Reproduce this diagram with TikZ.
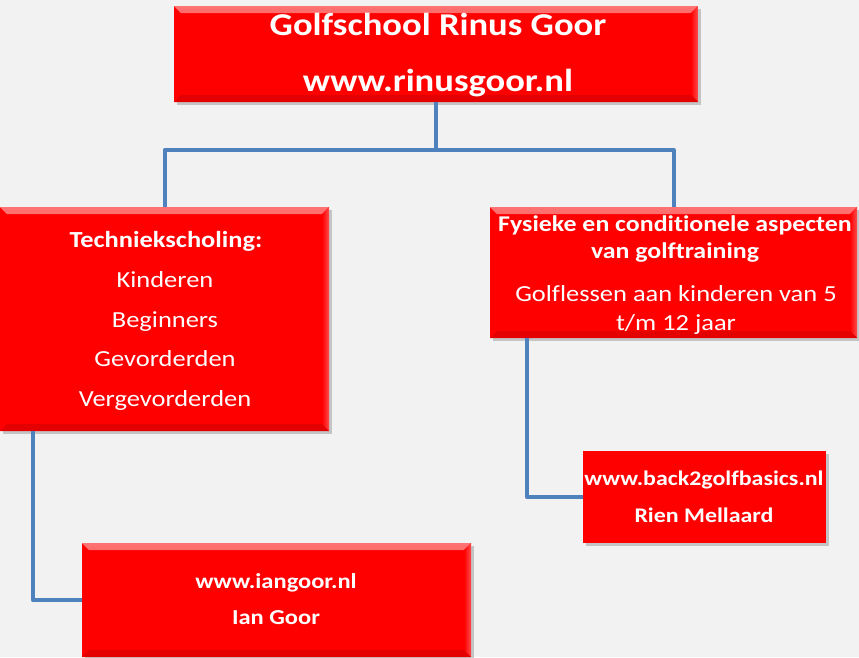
\documentclass[tikz,border=0pt]{standalone}
\usepackage{fontspec}
\setmainfont[FakeStretch=1.15,Ligatures=NoCommon]{Carlito}
\usetikzlibrary{shadows}
\definecolor{bg}{HTML}{F2F2F2}
\definecolor{conn}{HTML}{4F81BD}
\tikzset{
  box/.style={fill=red, draw=none, inner sep=0pt,
    drop shadow={opacity=0.4, shadow xshift=3pt, shadow yshift=-3pt},
    path picture={
      \shade[top color=red!55!white, bottom color=red]
        (path picture bounding box.north west) -- (path picture bounding box.north east)
        -- ([xshift=-7pt,yshift=-7pt]path picture bounding box.north east)
        -- ([xshift=7pt,yshift=-7pt]path picture bounding box.north west) -- cycle;
      \shade[left color=red, right color=red!70!white]
        (path picture bounding box.north east) -- (path picture bounding box.south east)
        -- ([xshift=-7pt,yshift=7pt]path picture bounding box.south east)
        -- ([xshift=-7pt,yshift=-7pt]path picture bounding box.north east) -- cycle;
      \fill[red!90!black]
        (path picture bounding box.south west) -- (path picture bounding box.south east)
        -- ([xshift=-7pt,yshift=7pt]path picture bounding box.south east)
        -- ([xshift=7pt,yshift=7pt]path picture bounding box.south west) -- cycle;
    }},
  flatbox/.style={fill=red, draw=none, inner sep=0pt,
    drop shadow={opacity=0.4, shadow xshift=3pt, shadow yshift=-3pt}},
  txt/.style={text=white, inner sep=0pt, anchor=base},
  link/.style={draw=conn, line width=4pt, line join=round}
}
\begin{document}
\begin{tikzpicture}[x=1pt, y=-1pt]
\fill[bg] (0,0) rectangle (859,657);
\useasboundingbox (0,0) rectangle (859,657);

% boxes
\node[box, minimum width=524pt, minimum height=96pt] (top) at (436,54) {};
\node[box, minimum width=329pt, minimum height=224pt] (left) at (164.5,319) {};
\node[box, minimum width=367pt, minimum height=131pt] (right) at (673.5,272.5) {};
\node[box, minimum width=389pt, minimum height=114pt] (ian) at (276.5,600) {};
\node[flatbox, minimum width=243pt, minimum height=92pt] (b2g) at (704.5,497) {};

\coordinate (mid) at (436,150);

% texts
\node[txt, font=\fontsize{31.8}{36}\selectfont\bfseries] (t1) at (438,35) {Golfschool Rinus Goor};
\node[txt, font=\fontsize{31.8}{36}\selectfont\bfseries] (t2) at (438,91) {www.rinusgoor.nl};

\node[txt, font=\fontsize{23}{27}\selectfont\bfseries] (l1) at (166,247) {Techniekscholing:};
\node[txt, font=\fontsize{23}{27}\selectfont] (l2) at (165,287) {Kinderen};
\node[txt, font=\fontsize{23}{27}\selectfont] (l3) at (165,327) {Beginners};
\node[txt, font=\fontsize{23}{27}\selectfont] (l4) at (165,366) {Gevorderden};
\node[txt, font=\fontsize{23}{27}\selectfont] (l5) at (165,406) {Vergevorderden};

\node[txt, font=\fontsize{22.5}{26}\selectfont\bfseries] (r1) at (675,231) {Fysieke en conditionele aspecten};
\node[txt, font=\fontsize{22.5}{26}\selectfont\bfseries] (r2) at (675,258) {van golftraining};
\node[txt, font=\fontsize{23}{27}\selectfont] (r3) at (676,301) {Golflessen aan kinderen van 5};
\node[txt, font=\fontsize{23}{27}\selectfont] (r4) at (676,330) {t/m 12 jaar};

\node[txt, font=\fontsize{21.3}{25}\selectfont\bfseries] (i1) at (276,588) {www.iangoor.nl};
\node[txt, font=\fontsize{21.3}{25}\selectfont\bfseries] (i2) at (276,624) {Ian Goor};

\node[txt, font=\fontsize{20.8}{24}\selectfont\bfseries] (b1) at (704,485) {www.back2golfbasics.nl};
\node[txt, font=\fontsize{20.8}{24}\selectfont\bfseries] (b2) at (704,522) {Rien Mellaard};

% connectors
\draw[link] (top.south) -- (mid) -| (left.north);
\draw[link] (mid) -| (right.north);
\draw[link] ([xshift=33pt]left.south west) |- (ian.west);
\draw[link] ([xshift=37pt]right.south west) |- (b2g.west);
\end{tikzpicture}
\end{document}
